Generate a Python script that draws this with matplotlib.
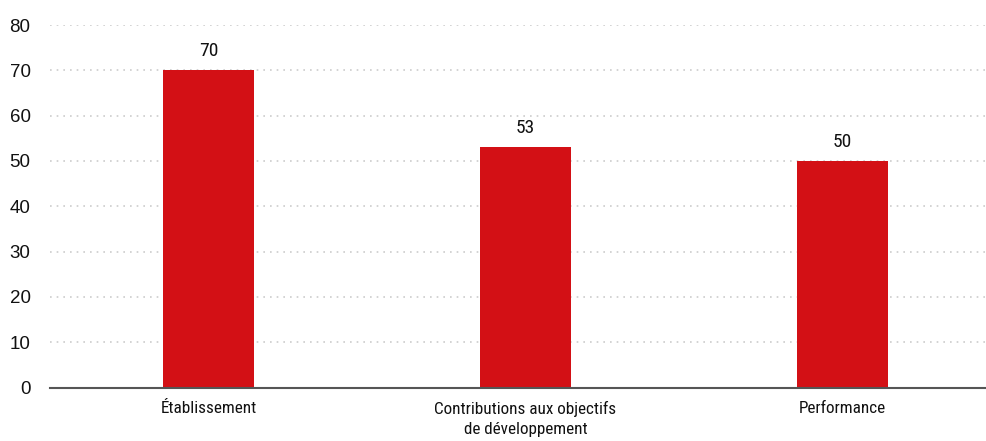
import matplotlib
matplotlib.use("Agg")
import matplotlib.pyplot as plt
from matplotlib import font_manager

categories = ["Établissement", "Contributions aux objectifs\nde développement", "Performance"]
values = [70, 53, 50]
yticks = [0, 10, 20, 30, 40, 50, 60, 70, 80]

names = {f.name for f in font_manager.fontManager.ttflist}
narrow = "Liberation Sans"
for c in ["Roboto Condensed", "Liberation Sans Narrow", "Open Sans Condensed"]:
    if c in names:
        narrow = c
        break

fig = plt.figure(figsize=(9.87, 4.41), dpi=100)
ax = fig.add_axes([50/987, 53.5/441, 937/987, 362.5/441])

x = list(range(len(categories)))
ax.bar(x, values, width=0.287, color="#D31015", zorder=3)
ax.set_xlim(-0.5, 2.456)
ax.set_ylim(0, 80)
ax.set_yticks(yticks)
ax.set_yticklabels([str(t) for t in yticks], fontsize=13.5, fontfamily="Liberation Sans", color="#111111")
ax.tick_params(axis="y", length=0, pad=14)
ax.set_xticks(x)
ax.set_xticklabels(categories, fontsize=12.3, fontfamily=narrow, color="#111111", linespacing=1.4)
ax.tick_params(axis="x", length=0, pad=10)

for t in yticks[1:]:
    ax.axhline(t, color="#cccccc", linestyle=(0, (1, 3)), linewidth=1.2, zorder=1)
for s in ["top", "right", "left"]:
    ax.spines[s].set_visible(False)
ax.spines["bottom"].set_color("#555555")
ax.spines["bottom"].set_linewidth(1.5)
ax.spines["bottom"].set_zorder(4)

for xi, v in zip(x, values):
    ax.annotate(str(v), (xi, v), xytext=(0, 7.5), textcoords="offset points",
                ha="center", va="bottom", fontsize=14, fontfamily=narrow, color="#111111")

fig.savefig("out.png", dpi=100)
